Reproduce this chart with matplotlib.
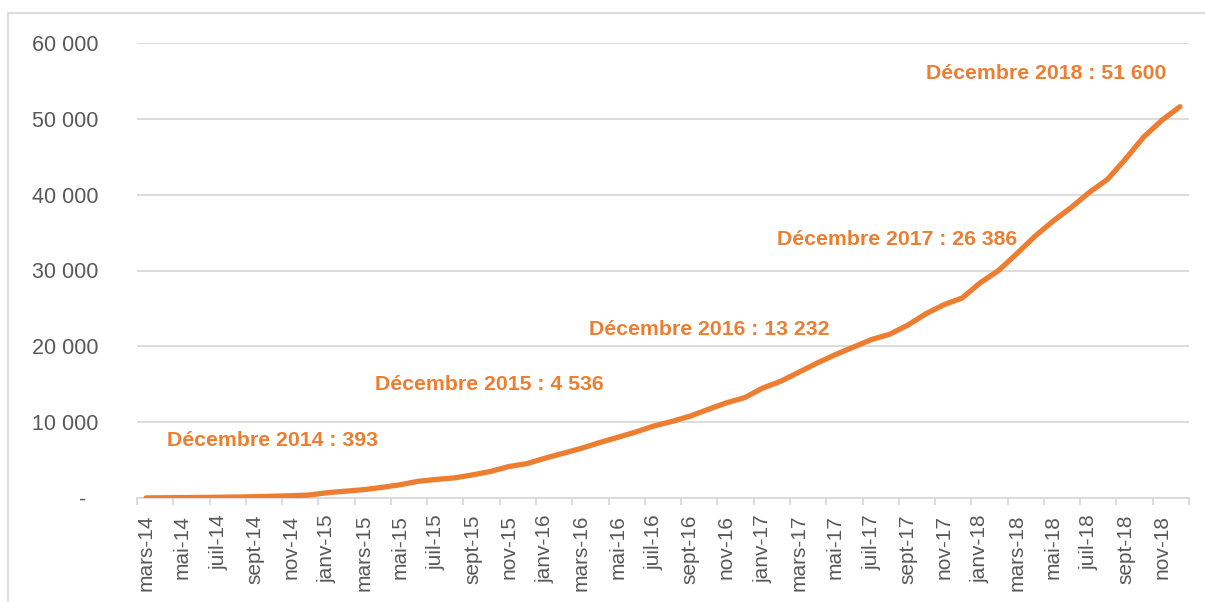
import matplotlib.pyplot as plt
from matplotlib.lines import Line2D
from matplotlib.ticker import FuncFormatter

# monthly cumulative values, mars 2014 -> décembre 2018
months_fr = ['janv', 'févr', 'mars', 'avr', 'mai', 'juin',
             'juil', 'août', 'sept', 'oct', 'nov', 'déc']
values = [
    15, 35, 55, 75, 100, 130, 170, 230, 300, 393,            # mars-14 .. déc-14
    700, 900, 1100, 1400, 1750, 2200, 2450, 2650, 3050, 3500, 4150, 4536,   # 2015
    5250, 5900, 6550, 7300, 8000, 8700, 9500, 10100, 10800, 11700, 12550, 13232,  # 2016
    14500, 15400, 16600, 17800, 18900, 19900, 20900, 21600, 22800, 24300, 25500, 26386,  # 2017
    28400, 30000, 32200, 34500, 36500, 38300, 40300, 42000, 44700, 47600, 49800, 51600,  # 2018
]
labels = []
for year in range(2014, 2019):
    for m in range(12):
        if year == 2014 and m < 2:
            continue
        labels.append(f"{months_fr[m]}-{str(year)[2:]}")

annotations = [
    ("Décembre 2014 : 393", 1.15, 7556),
    ("Décembre 2015 : 4 536", 12.61, 14967),
    ("Décembre 2016 : 13 232", 24.44, 22154),
    ("Décembre 2017 : 26 386", 34.81, 34115),
    ("Décembre 2018 : 51 600", 42.99, 55913),
]

orange = '#ED7D31'
grey_txt = '#595959'
grey_line = '#D9D9D9'

plt.rcParams['font.family'] = ['Liberation Sans', 'DejaVu Sans']

fig = plt.figure(figsize=(12.05, 6.02), dpi=100)
ax = fig.add_axes([137 / 1205, 1 - 498 / 602, (1189 - 137) / 1205, (498 - 43) / 602])

x = list(range(len(values)))
ax.plot(x, values, color=orange, linewidth=3.8, solid_capstyle='round',
        solid_joinstyle='round', zorder=3)

ax.set_xlim(-0.5, len(values) - 0.5)
ax.set_ylim(0, 60000)
ax.set_yticks(range(0, 60001, 10000))


def fmt(v, pos):
    if v == 0:
        return '-  '
    return f"{v:,.0f}".replace(',', ' ')


ax.yaxis.set_major_formatter(FuncFormatter(fmt))
ax.grid(axis='y', color=grey_line, linewidth=1.3, zorder=0)
ax.set_axisbelow(True)

# category labels every two months, tick marks between categories
ax.set_xticks(x[::2])
ax.set_xticklabels(labels[::2], rotation=90)
ax.set_xticks([i - 0.5 for i in range(0, len(values) + 1, 2)], minor=True)
ax.tick_params(axis='x', which='major', length=0, pad=12, labelsize=15, labelcolor=grey_txt)
ax.tick_params(axis='x', which='minor', length=5, width=1.3, color=grey_line)
ax.tick_params(axis='y', length=0, pad=28, labelsize=15.5, labelcolor=grey_txt)

for side in ['top', 'right', 'left']:
    ax.spines[side].set_visible(False)
ax.spines['bottom'].set_color(grey_line)
ax.spines['bottom'].set_linewidth(1.3)

for txt, xp, yp in annotations:
    ax.text(xp, yp, txt, color=orange, fontsize=15.3, fontweight='bold',
            ha='left', va='center')

# light frame around the chart area
fig.add_artist(Line2D([8 / 1205, 1], [1 - 13 / 602, 1 - 13 / 602], color=grey_line, linewidth=1.3))
fig.add_artist(Line2D([8 / 1205, 8 / 1205], [0, 1 - 13 / 602], color=grey_line, linewidth=1.3))

plt.savefig('out.png', dpi=100)
